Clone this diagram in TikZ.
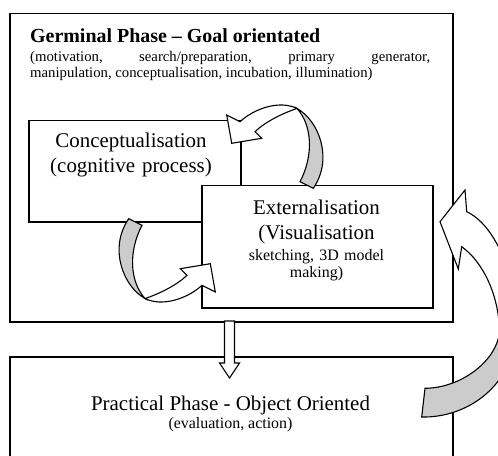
\documentclass[tikz,border=0pt]{standalone}
\usepackage{fontspec}
\setmainfont{Liberation Serif}
% one curved block arrow, the other one is the same turned half round
\newcommand{\loopArrow}{%
  \draw[backpart] (297,108.5) .. controls (318,120) and (334,158) .. (313.3,188.3)
    -- (300,181.7) .. controls (314,155) and (312,125) .. (297,108.5) -- cycle;
  \draw[flatpart] (226.7,115) -- (240,121.7) .. controls (255,108) and (280,100) .. (297,108.5)
    .. controls (283,113) and (265,122) .. (255,131.7) -- (261.7,138.3) -- (231.7,143.3) -- cycle;
}
\begin{document}
\begin{tikzpicture}[x=1bp, y=-1bp,
            phase/.style={draw, line width=1.5bp, fill=white, inner sep=0pt, anchor=north west},
            label/.style={inner sep=0pt, anchor=base, align=center},
            bigtext/.style={font=\fontsize{21}{24.5}\selectfont},
            smalltext/.style={font=\fontsize{16}{18}\selectfont},
            flatpart/.style={draw, line width=1.1bp, fill=white, line join=miter},
            backpart/.style={draw, line width=1.1bp, fill=gray!40, line join=miter}
        ]
            \useasboundingbox (0,0) rectangle (498,456);
            \clip (0,0) rectangle (498,456);

            \node[phase, minimum width=443bp, minimum height=308bp] (germinal) at (9,13) {};
            \node[phase, minimum width=212bp, minimum height=101bp] (concept) at (28,120) {};
            \node[phase, minimum width=231bp, minimum height=122bp] (extern) at (201,185) {};
            \node[phase, minimum width=443bp, minimum height=110bp] (practical) at (9,356) {};

            \node[inner sep=0pt, anchor=base west, font=\fontsize{20}{24}\selectfont\bfseries] (title) at (30,42.7) {Germinal Phase – Goal orientated};
            \node[inner sep=0pt, anchor=base west, text width=400bp, align=left, font=\fontsize{14.8}{15.6}\selectfont] (stages) at (30,61.7)
                {\spaceskip=0pt\relax
                 \hbox to 400bp{(motivation,\hfill search/preparation,\hfill primary\hfill generator,}\\
                 manipulation, conceptualisation, incubation, illumination)};

            \node[label, bigtext, text width=212bp] (conceptText) at (131,148) {Conceptualisation\\(cognitive process)};
            \node[label, bigtext, text width=231bp] (externText) at (316.5,215) {Externalisation\\(Visualisation};
            \node[label, smalltext, text width=231bp] (externNote) at (316.5,260) {sketching, 3D model\\making)};
            \node[label, bigtext] (practicalText) at (230.5,410) {Practical Phase - Object Oriented};
            \node[label, smalltext] (practicalNote) at (230.5,428) {(evaluation, action)};

            % loops between the two boxes
            \loopArrow
            \begin{scope}[rotate around={180:(221,203.5)}]
                \loopArrow
            \end{scope}

            % back from the practical phase
            \draw[backpart] (499.5,332) .. controls (497,360) and (462,388) .. (425,388.3)
                -- (421.7,417) .. controls (468,418) and (514,385) .. (516,330) -- cycle;
            \draw[flatpart] (466.7,211.7) -- (465,190) -- (440,221.7) -- (458.3,269) -- (461.7,246.7)
                .. controls (483,262) and (499,295) .. (499.5,332) -- (516,330)
                .. controls (517,275) and (495,225) .. (466.7,211.7) -- cycle;

            % down to the practical phase
            \draw[flatpart] (224.5,321) -- (224.5,363) -- (219.5,363) -- (229.5,378)
                -- (239.5,363) -- (234.5,363) -- (234.5,321) -- cycle;
        \end{tikzpicture}
\end{document}
